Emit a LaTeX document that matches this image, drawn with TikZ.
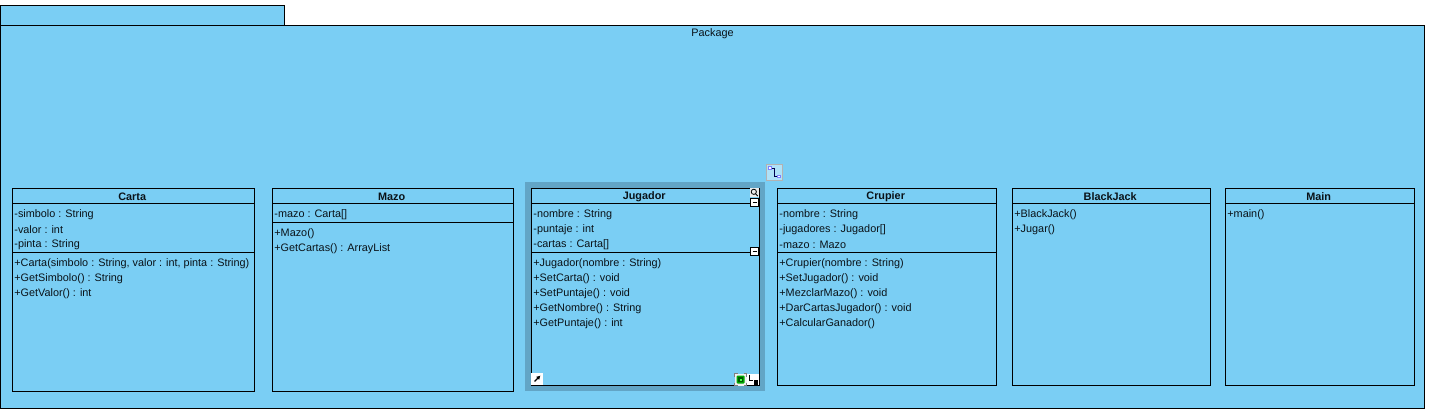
\documentclass[tikz,border=0pt]{standalone}
\usepackage{fontspec}
\usetikzlibrary{arrows.meta}
\setmainfont{Liberation Sans}
\definecolor{pkg}{HTML}{7ACEF4}
\definecolor{hl}{HTML}{62A5C6}
\definecolor{ln}{HTML}{000000}
\definecolor{txt}{HTML}{0A1218}
\tikzset{
  umlbox/.style={draw=ln,line width=1pt},
  sep/.style={draw=ln,line width=1pt},
  mem/.style={anchor=west,inner sep=0pt,text=txt,font=\fontsize{10.85}{12}\selectfont},
  ttl/.style={anchor=center,inner sep=0pt,text=txt,font=\fontsize{10.85}{12}\selectfont\bfseries},
}
\newcommand{\umlclass}[8]{%
 % name, x1, x2, title, attr-sep y, ops start, ops, bottom
 \draw[umlbox] (#2,188.5) rectangle (#3,#8);
 \draw[sep] (#2,203.5) -- (#3,203.5);
 \draw[sep] (#2,#5) -- (#3,#5);
 \node[ttl] (#1) at ({(#2+#3)/2-1.3},197) {#4};
 \foreach \t [count=\i] in {#7} {\node[mem] (#1o\i) at (#2+1.7,{#6+15*(\i-1)}) {\t};}
}
\newcommand{\umlattrs}[3]{%
 \foreach \t [count=\i] in {#3} {\node[mem] (#1a\i) at (#2+1.7,{199.6+15*\i}) {\t};}
}
\begin{document}
\begin{tikzpicture}[x=1pt,y=-1pt]
\useasboundingbox (0,0) rectangle (1430,417);
\fill[white] (0,0) rectangle (1430,417);
\draw[umlbox,fill=pkg] (0.5,5.5) rectangle (284.5,25.5);
\draw[umlbox,fill=pkg] (0.5,25.5) rectangle (1424.5,408.5);
\node[mem,anchor=center] (pkglabel) at (712.5,33.6) {Package};
\fill[hl] (525,182) rectangle (765,391);
\fill[pkg] (531,188) rectangle (759,385);
\umlclass{carta}{12.5}{254.5}{Carta}{252.5}{263.6}{{+Carta(simbolo : String, valor : int, pinta : String)},{+GetSimbolo() : String},{+GetValor() : int}}{391.5}
\umlattrs{carta}{12.5}{{-simbolo : String},{-valor : int},{-pinta : String}}
\umlclass{mazo}{272.5}{513.5}{Mazo}{222.5}{233.6}{{+Mazo()},{+GetCartas() : ArrayList}}{391.5}
\umlattrs{mazo}{272.5}{{-mazo : Carta[]}}
\umlclass{jugador}{531.5}{759.5}{Jugador}{252.5}{263.6}{{+Jugador(nombre : String)},{+SetCarta() : void},{+SetPuntaje() : void},{+GetNombre() : String},{+GetPuntaje() : int}}{385.5}
\umlattrs{jugador}{531.5}{{-nombre : String},{-puntaje : int},{-cartas : Carta[]}}
\umlclass{crupier}{777.5}{996.5}{Crupier}{252.5}{263.6}{{+Crupier(nombre : String)},{+SetJugador() : void},{+MezclarMazo() : void},{+DarCartasJugador() : void},{+CalcularGanador()}}{385.5}
\umlattrs{crupier}{777.5}{{-nombre : String},{-jugadores : Jugador[]},{-mazo : Mazo}}
\umlclass{blackjack}{1012.5}{1210.5}{BlackJack}{203.5}{214.6}{{+BlackJack()},{+Jugar()}}{385.5}
\umlclass{main}{1225.5}{1414.5}{Main}{203.5}{214.6}{{+main()}}{385.5}
% selection icons
\fill[white!85!gray] (750,188) rectangle (759,197);
\draw[black,line width=.8pt] (753.8,191.8) circle (2.6);
\draw[black,line width=.9pt] (755.6,193.8) -- (757.8,196);
\foreach \yy in {202.5,251.5}{
 \draw[black,fill=white,line width=1pt] (750.5,\yy-4) rectangle (758.5,\yy+4);
 \draw[black,line width=1.2pt] (752.5,\yy) -- (756.5,\yy);}
\fill[white] (531,373) rectangle (543,385);
\draw[black,line width=1.4pt,-{Latex[length=4pt,width=4.5pt]}] (534.5,381.5) -- (540.5,375.5);
\fill[white!90!gray] (734.5,373.5) rectangle (746.5,385.5);
\draw[gray,line width=1pt] (734.5,376.5) |- (737.5,373.5) (743.5,373.5) -| (746.5,376.5) (746.5,382.5) |- (743.5,385.5) (737.5,385.5) -| (734.5,382.5);
\fill[green!65!black,rounded corners=1pt] (736.5,375.5) rectangle (744.5,383.5);
\fill[green!35!black] (738,377) rectangle (743,382);
\fill[green!70!white] (739.5,378.5) rectangle (741.5,380.5);
\fill[white] (747,374) rectangle (759,385);
\draw[black,line width=1pt] (749,374.5) -- (749,380.5) -- (753,380.5);
\fill[black] (754,380) rectangle (758,384.5);
\draw[black!30,fill=pkg!60!white,line width=1pt] (766.5,164.5) rectangle (782.5,180.5);
\draw[black!70!blue,line width=.7pt] (770,168) -- (774,168) -- (774,176) -- (779,176);
\draw[blue!50,fill=white,line width=.5pt] (768.5,166.5) rectangle (771,169);
\draw[blue!50,fill=white,line width=.5pt] (777.5,175) rectangle (780,177.5);
\end{tikzpicture}
\end{document}
